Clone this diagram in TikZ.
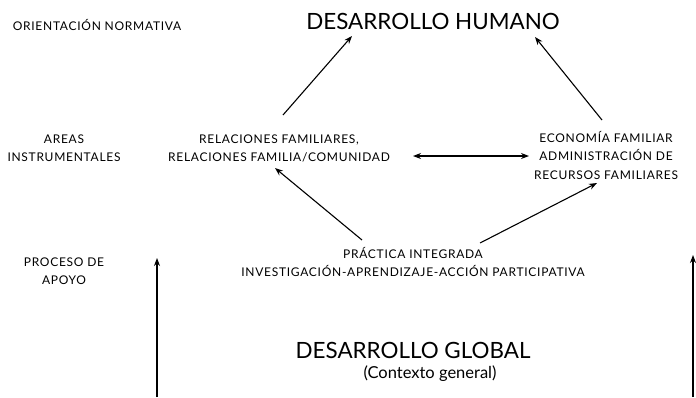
\documentclass[tikz,border=0pt]{standalone}
\usepackage{fontspec}
\setmainfont{Lato}
\usetikzlibrary{arrows.meta,calc}
\begin{document}
\begin{tikzpicture}[x=1pt,y=-1pt,
  lbl/.style={inner sep=0pt, anchor=base, font=\fontsize{12}{18.5}\selectfont\addfontfeature{LetterSpace=6}},
  big/.style={inner sep=0pt, anchor=base, font=\fontsize{22.4}{19}\selectfont},
  mid/.style={inner sep=0pt, anchor=base, font=\fontsize{16.5}{19}\selectfont},
  arr/.style={line width=1.1pt, -{Stealth[length=8pt,width=6pt]}},
  darr/.style={line width=1.1pt, {Stealth[length=8pt,width=6pt]}-{Stealth[length=8pt,width=6pt]}}]
\useasboundingbox (0,0) rectangle (696,397);
\node[lbl] (orient) at (97,30) {ORIENTACIÓN NORMATIVA};
\node[big] (dh) at (433,29) {DESARROLLO HUMANO};
\node[lbl] (areas) at (64,143) {\begin{tabular}[t]{@{}c@{}}AREAS\\INSTRUMENTALES\end{tabular}};
\node[lbl] (rel) at (279,143) {\begin{tabular}[t]{@{}c@{}}RELACIONES FAMILIARES,\\RELACIONES FAMILIA/COMUNIDAD\end{tabular}};
\node[lbl] (econ) at (606,142) {\begin{tabular}[t]{@{}c@{}}ECONOMÍA FAMILIAR\\ADMINISTRACIÓN DE\\RECURSOS FAMILIARES\end{tabular}};
\node[lbl] (proceso) at (64,266) {\begin{tabular}[t]{@{}c@{}}PROCESO DE\\APOYO\end{tabular}};
\node[lbl] (prac) at (413,258) {\begin{tabular}[t]{@{}c@{}}PRÁCTICA INTEGRADA\\INVESTIGACIÓN-APRENDIZAJE-ACCIÓN PARTICIPATIVA\end{tabular}};
\node[big] (dg) at (413,358) {DESARROLLO GLOBAL};
\node[mid] (ctx) at (430,378) {(Contexto general)};
\coordinate (lb) at (157,397);
\coordinate (lt) at (157,258);
\coordinate (rb) at (693,397);
\coordinate (rt) at (693,255);
\draw[arr] ($(rel.base)+(4,-28)$) -- ($(dh.base)+(-81,7)$);
\draw[arr] ($(econ.base)+(-4,-22)$) -- ($(dh.base)+(102,8)$);
\draw[darr] ($(rel.base)+(134,13)$) -- ($(econ.base)+(-77,14)$);
\draw[arr] ($(prac.base)+(-51,-18)$) -- ($(rel.base)+(-4,25)$);
\draw[arr] ($(prac.base)+(67,-15)$) -- ($(econ.base)+(-9,41)$);
\draw[arr] (lb) -- (lt);
\draw[arr] (rb) -- (rt);
\end{tikzpicture}
\end{document}
